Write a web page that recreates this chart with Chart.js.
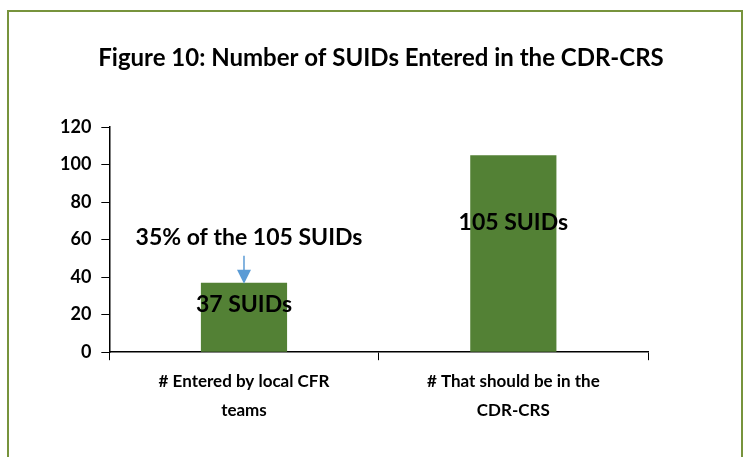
<!DOCTYPE html>
<html>
<head>
<meta charset="utf-8">
<script src="https://cdn.jsdelivr.net/npm/chart.js@4/dist/chart.umd.min.js"></script>
<style>
  body { margin: 0; background: #fff; }
  #frame { position: absolute; left: 7px; top: 10px; width: 736px; height: 470px; border: 2px solid #77933C; box-sizing: border-box; }
  canvas { position: absolute; left: 0; top: 0; }
</style>
</head>
<body>
<div id="frame"></div>
<canvas id="suidChart" width="748" height="457"></canvas>
<script>
// data
let categories = [["# Entered by local CFR", "teams"], ["# That should be in the", "CDR-CRS"]];
let suidCounts = [37, 105];
let barLabels = ["37 SUIDs", "105 SUIDs"];
let noteText = "35% of the 105 SUIDs";
let titleText = "Figure 10: Number of SUIDs Entered in the CDR-CRS";
let yTicks = [0, 20, 40, 60, 80, 100, 120];

let fontFamily = "Lato, 'Liberation Sans', sans-serif";

/* draws the title, the text on the bars and the blue arrow */
let labelPlugin = {
    id: "labelPlugin",
    afterDatasetsDraw: function(chart) {
        let ctx = chart.ctx;
        let x = chart.scales.x;
        let y = chart.scales.y;
        ctx.save();
        ctx.fillStyle = "#000";
        ctx.textAlign = "center";
        ctx.textBaseline = "middle";

        // title sits over the whole frame, not only the plot
        ctx.font = "bold 24px " + fontFamily;
        ctx.fillText(titleText, chart.width / 2 + 7, 58);

        ctx.font = "bold 23px " + fontFamily;
        suidCounts.forEach(function(v, i) {
            ctx.fillText(barLabels[i], x.getPixelForValue(i), y.getPixelForValue(v * 0.65) - 2);
        });

        // note above the first bar
        let cx = x.getPixelForValue(0);
        ctx.fillText(noteText, cx + 5, y.getPixelForValue(61));

        let tip = y.getPixelForValue(suidCounts[0]) + 1;
        let top = tip - 28;
        ctx.strokeStyle = "#5B9BD5";
        ctx.fillStyle = "#5B9BD5";
        ctx.lineWidth = 1.5;
        ctx.beginPath();
        ctx.moveTo(cx, top);
        ctx.lineTo(cx, tip - 12);
        ctx.stroke();
        ctx.beginPath();
        ctx.moveTo(cx - 7, tip - 14);
        ctx.lineTo(cx + 7, tip - 14);
        ctx.lineTo(cx, tip);
        ctx.closePath();
        ctx.fill();
        ctx.restore();
    }
};

let ctx = document.getElementById("suidChart").getContext("2d");

let suidChart = new Chart(ctx, {
    type: "bar",
    data: {
        labels: categories,
        datasets: [
            {
            label: "SUIDs",
            data: suidCounts,
            backgroundColor: "#538135",
            barPercentage: 0.64,
            categoryPercentage: 0.5
            }
        ]
    },
    options: {
        responsive: false,
        animation: false,
        layout: { padding: { left: 50, right: 100, top: 127, bottom: 25 } },
        plugins: {
            legend: { display: false },
            tooltip: { enabled: false },
            title: { display: false }
        },
        scales: {
            x: {
                grid: { drawOnChartArea: false, color: "#000", tickLength: 8, offset: true },
                border: { color: "#000", width: 1.5 },
                ticks: { color: "#000", font: { family: fontFamily, size: 17, weight: "bold", lineHeight: 1.7 }, padding: 7 }
            },
            y: {
                min: 0,
                max: 120,
                afterBuildTicks: function(axis) {
                    axis.ticks = yTicks.map(function(v) { return { value: v }; });
                },
                grid: { drawOnChartArea: false, color: "#000", tickLength: 8 },
                border: { color: "#000", width: 1.5 },
                ticks: { color: "#000", font: { family: fontFamily, size: 18, weight: "bold" }, padding: 10 }
            }
        }
    },
    plugins: [labelPlugin]
});
</script>
</body>
</html>
